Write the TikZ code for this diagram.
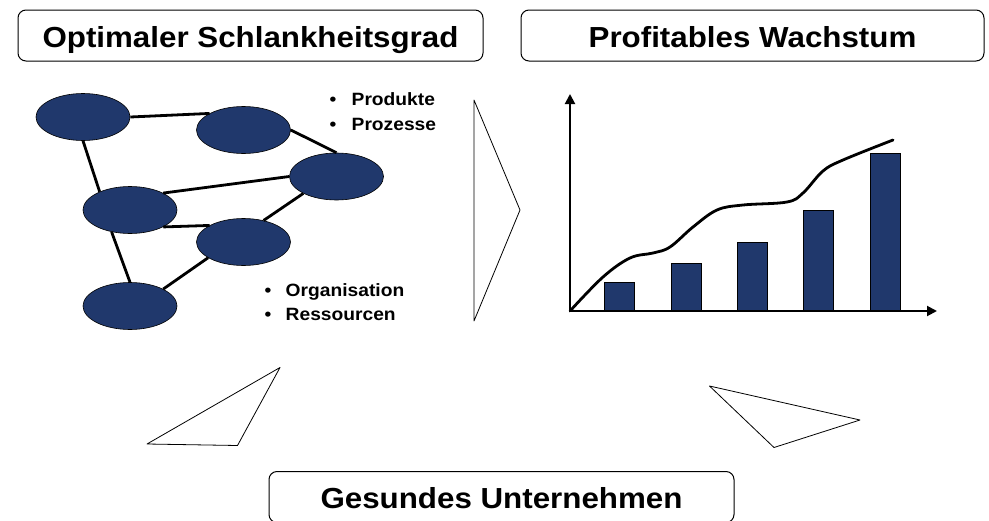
\documentclass[tikz,border=0pt]{standalone}
\usepackage{fontspec}
\setmainfont{Liberation Sans}[FakeStretch=1.08]
\usetikzlibrary{arrows.meta,shapes.geometric}
\definecolor{knblau}{RGB}{32, 56, 108}
\tikzstyle{kn}=[ellipse,fill=knblau,draw=black,
  line width=0.6pt,inner sep=0pt,minimum width=94pt,minimum height=47pt]
\tikzstyle{tb}=[rectangle,rounded corners=8pt,draw=black,line width=1pt,
  minimum width=465pt,minimum height=51pt,text height=23pt,text depth=0pt,
  font=\fontsize{29}{31}\selectfont\bfseries]
\tikzstyle{pkt}=[inner sep=0pt,anchor=base west,
  font=\fontsize{17.8}{20}\selectfont\bfseries]
\tikzstyle{kante}=[line width=2.8pt]
\tikzstyle{dreieck}=[line width=0.8pt,line join=round]
\tikzstyle{balken}=[fill=knblau,draw=black,line width=0.6pt]
\tikzstyle{achse}=[line width=2pt,-{Triangle[length=10pt,width=10pt]}]
\tikzstyle{none}=[]

\begin{document}
\begin{tikzpicture}[x=1pt,y=-1pt]
    \useasboundingbox (0,0) rectangle (989,520);
            % Ueberschriften
            \node [style=tb] (t0) at (250.5, 35.5) {Optimaler Schlankheitsgrad};
            \node [style=tb, minimum width=463pt] (t1) at (752.5, 35.5) {Profitables Wachstum};
            \node [style=tb] (t2) at (501.5, 497) {Gesundes Unternehmen};
            % Netz
            \node [style=kn] (k0) at (83, 117) {};
            \node [style=kn] (k1) at (243.5, 130) {};
            \node [style=kn] (k2) at (336.5, 176.5) {};
            \node [style=kn] (k3) at (130, 210) {};
            \node [style=kn] (k4) at (243.5, 242) {};
            \node [style=kn] (k5) at (130, 306) {};
            \draw [style=kante] (k0.0) to (k1.154);
            \draw [style=kante] (k0.270) to (k3.149);
            \draw [style=kante] (k1.0) to (k2.90);
            \draw [style=kante] (k3.27) to (k2.180);
            \draw [style=kante] (k3.333) to (k4.154);
            \draw [style=kante] (k4.47) to (k2.207);
            \draw [style=kante] (k3.230) to (k5.90);
            \draw [style=kante] (k5.27) to (k4.204);
            \node [style=pkt] (p0) at (329.5, 105.7) {\makebox[22pt][l]{•}Produkte};
            \node [style=pkt] (p1) at (329.5, 130) {\makebox[22pt][l]{•}Prozesse};
            \node [style=pkt] (p2) at (264.5, 296) {\makebox[21pt][l]{•}Organisation};
            \node [style=pkt] (p3) at (264.5, 320) {\makebox[21pt][l]{•}Ressourcen};
            % Pfeilspitzen
            \draw [style=dreieck] (474, 100) -- (520, 210) -- (474, 321) -- cycle;
            \draw [style=dreieck] (147, 444) -- (280, 367.5) -- (237.5, 445.5) -- cycle;
            \draw [style=dreieck] (709.5, 386) -- (860, 420) -- (774, 447.5) -- cycle;
            % Diagramm
            \coordinate (o) at (570, 311);
            \coordinate (ye) at (570, 94);
            \coordinate (xe) at (937, 311);
            \foreach \x/\h in {604/282, 671/263, 737/242, 803/210, 870/153}
                \draw [style=balken] (\x, 311) rectangle (\x+30, \h);
            \draw [style=achse] (o) to (ye);
            \draw [style=achse] (o) to (xe);
            \draw [line width=2.8pt, line cap=round] plot [smooth, tension=0.6] coordinates {(570, 311) (603, 277) (630, 258) (653, 253) (670, 247) (693, 227) (717, 210) (743, 205) (787, 202) (803, 193) (823, 171) (843, 160) (893, 140)};
    \end{tikzpicture}
\end{document}
